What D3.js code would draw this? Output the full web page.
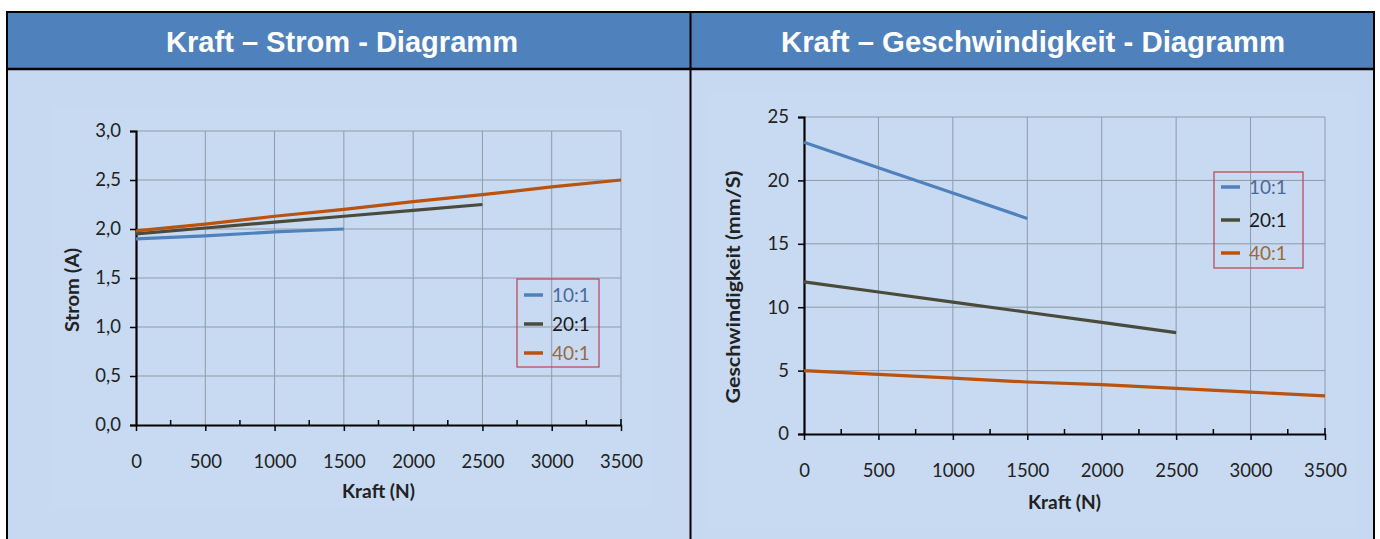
<!DOCTYPE html>
<html><head><meta charset="utf-8">
<script src="https://cdn.jsdelivr.net/npm/d3@7"></script>
<style>
html,body{margin:0;padding:0;background:#fff;}
svg{display:block;}
</style></head>
<body>
<svg id="c" width="1380" height="539"></svg>
<script>
// ---- data ----
const titles = ["Kraft – Strom - Diagramm", "Kraft – Geschwindigkeit - Diagramm"];
const seriesNames = ["10:1", "20:1", "40:1"];
const kraft10 = [0, 500, 1000, 1500];
const kraft20 = [0, 500, 1000, 1500, 2000, 2500];
const kraft40 = [0, 500, 1000, 1500, 2000, 2500, 3000, 3500];
const strom10 = [1.90, 1.93, 1.97, 2.00];
const strom20 = [1.95, 2.01, 2.07, 2.13, 2.19, 2.25];
const strom40 = [1.98, 2.05, 2.13, 2.20, 2.28, 2.35, 2.43, 2.50];
const gesch10 = [23.0, 21.0, 19.0, 17.0];
const gesch20 = [12.0, 11.2, 10.4, 9.6, 8.8, 8.0];
const gesch40 = [5.0, 4.7, 4.4, 4.1, 3.9, 3.6, 3.3, 3.0];
const xTicks = [0, 500, 1000, 1500, 2000, 2500, 3000, 3500];
const stromTicks = [0, 0.5, 1.0, 1.5, 2.0, 2.5, 3.0];
const geschTicks = [0, 5, 10, 15, 20, 25];
const xLabel = "Kraft (N)";
const stromLabel = "Strom (A)";
const geschLabel = "Geschwindigkeit (mm/S)";

const colors = ["#4F81BD", "#4A4B3B", "#B9530F"];
const legendTextColors = ["#4A6A9C", "#1a1a1a", "#9A6A3C"];

const svg = d3.select("#c");
const FONT = "Lato, 'Open Sans', sans-serif";

// ---- table frame ----
svg.append("rect").attr("x",7).attr("y",13).attr("width",1367).attr("height",56).attr("fill","#4F81BD");
svg.append("rect").attr("x",7).attr("y",69).attr("width",1367).attr("height",470).attr("fill","#C6D9F1");
// subtle chart areas
svg.append("rect").attr("x",52).attr("y",106).attr("width",598).attr("height",402).attr("fill","#C8DAF1");
svg.append("rect").attr("x",706).attr("y",94).attr("width",652).attr("height",434).attr("fill","#C8DAF1");
const bl = (x1,y1,x2,y2,w)=>svg.append("line").attr("x1",x1).attr("y1",y1).attr("x2",x2).attr("y2",y2).attr("stroke","#000").attr("stroke-width",w);
bl(6,12,1375,12,2);
bl(6,69,1375,69,2.5);
bl(7,12,7,539,2);
bl(1374,12,1374,539,2);
bl(690.5,12,690.5,539,2);

const titleLen = [352, 504];
svg.selectAll("text.title").data(titles).enter().append("text")
  .attr("x",(d,i)=> i===0 ? 342 : 1033).attr("y",52)
  .attr("text-anchor","middle").attr("fill","#fff")
  .attr("font-family","'Liberation Sans', Arial, sans-serif").attr("font-weight","bold").attr("font-size",30)
  .attr("textLength",(d,i)=>titleLen[i]).attr("lengthAdjust","spacingAndGlyphs")
  .text(d=>d);

function drawChart(cfg){
  const g = svg.append("g");
  const x = d3.scaleLinear().domain([0,3500]).range([cfg.x0, cfg.x1]);
  const y = d3.scaleLinear().domain([0, cfg.ymax]).range([cfg.y0, cfg.y1]);
  // grid
  g.selectAll("line.vg").data(xTicks.slice(1)).enter().append("line")
    .attr("x1",d=>x(d)).attr("x2",d=>x(d)).attr("y1",y(0)).attr("y2",y(cfg.ymax))
    .attr("stroke","#8E9AA8").attr("stroke-width",1);
  g.selectAll("line.hg").data(cfg.yTicks.slice(1)).enter().append("line")
    .attr("x1",x(0)).attr("x2",x(3500)).attr("y1",d=>y(d)).attr("y2",d=>y(d))
    .attr("stroke","#8E9AA8").attr("stroke-width",1);
  // y axis
  const yAx = g.append("g").attr("transform",`translate(${x(0)},0)`)
    .call(d3.axisLeft(y).tickValues(cfg.yTicks).tickFormat(cfg.fmt).tickSize(6).tickPadding(9));
  yAx.select(".domain").attr("stroke","#000").attr("stroke-width",2.2);
  yAx.selectAll(".tick line").attr("stroke","#000").attr("stroke-width",1.5);
  yAx.selectAll("text").attr("font-family",FONT).attr("font-size",cfg.fs).attr("fill","#222");
  // x axis
  const xAx = g.append("g").attr("transform",`translate(0,${y(0)})`)
    .call(d3.axisBottom(x).tickValues(xTicks).tickFormat(d3.format("d")).tickSizeInner(6).tickSizeOuter(0).tickPadding(cfg.xpad));
  xAx.select(".domain").attr("stroke","#000").attr("stroke-width",2.2);
  xAx.selectAll(".tick line").attr("stroke","#000").attr("stroke-width",1.5);
  xAx.selectAll("text").attr("font-family",FONT).attr("font-size",cfg.fs).attr("fill","#222");
  // minor ticks (inside)
  const minor = d3.range(250, 3500, 500);
  g.selectAll("line.mt").data(minor).enter().append("line")
    .attr("x1",d=>x(d)).attr("x2",d=>x(d)).attr("y1",y(0)).attr("y2",y(0)-5)
    .attr("stroke","#000").attr("stroke-width",1.5);
  g.append("line").attr("x1",x(3500)).attr("x2",x(3500)).attr("y1",y(0)).attr("y2",y(0)-6)
    .attr("stroke","#000").attr("stroke-width",1.5);
  // lines
  const line = d3.line().x(d=>x(d[0])).y(d=>y(d[1]));
  cfg.series.forEach((s,i)=>{
    g.append("path").datum(s.xs.map((v,j)=>[v, s.ys[j]]))
      .attr("d",line).attr("fill","none").attr("stroke",colors[i]).attr("stroke-width",3.2);
  });
  // axis titles
  g.append("text").attr("x",(x(0)+x(3500))/2).attr("y",cfg.xLabY).attr("text-anchor","middle")
    .attr("font-family",FONT).attr("font-weight","bold").attr("font-size",cfg.tfs).attr("fill","#222")
    .attr("textLength",73).attr("lengthAdjust","spacingAndGlyphs").text(xLabel);
  g.append("text").attr("transform",`translate(${cfg.yLabX},${cfg.yLabC}) rotate(-90)`)
    .attr("text-anchor","middle")
    .attr("font-family",FONT).attr("font-weight","bold").attr("font-size",cfg.tfs).attr("fill","#222")
    .attr("textLength",cfg.yLabLen).attr("lengthAdjust","spacingAndGlyphs").text(cfg.yLabel);
  // legend
  const L = cfg.legend;
  g.append("rect").attr("x",L.x).attr("y",L.y).attr("width",L.w).attr("height",L.h)
    .attr("fill","none").attr("stroke","#C0404D").attr("stroke-width",1.2);
  seriesNames.forEach((n,i)=>{
    const cy = L.y + L.first + i*L.step;
    g.append("line").attr("x1",L.x+7).attr("x2",L.x+26).attr("y1",cy).attr("y2",cy)
      .attr("stroke",colors[i]).attr("stroke-width",3.5);
    g.append("text").attr("x",L.x+35).attr("y",cy).attr("dy","0.36em")
      .attr("font-family",FONT).attr("font-size",cfg.lfs).attr("fill",legendTextColors[i]).text(n);
  });
}

const commaFmt = d=> d3.format(".1f")(d).replace(".", ",");

drawChart({
  x0:136, x1:621, y0:425, y1:131, ymax:3.0, yTicks:stromTicks, fmt:commaFmt, fs:18.5, tfs:19.5, lfs:19, xpad:24,
  xLabY:498, yLabX:79, yLabC:290, yLabLen:84, yLabel:stromLabel,
  series:[{xs:kraft10, ys:strom10},{xs:kraft20, ys:strom20},{xs:kraft40, ys:strom40}],
  legend:{x:517, y:279, w:82, h:88, first:16, step:29}
});
drawChart({
  x0:804, x1:1325, y0:434, y1:117, ymax:25, yTicks:geschTicks, fmt:d3.format("d"), fs:18.5, tfs:19.5, lfs:19, xpad:24,
  xLabY:509, yLabX:740, yLabC:287, yLabLen:233, yLabel:geschLabel,
  series:[{xs:kraft10, ys:gesch10},{xs:kraft20, ys:gesch20},{xs:kraft40, ys:gesch40}],
  legend:{x:1214, y:172, w:89, h:96, first:15, step:33}
});
</script>
</body></html>
